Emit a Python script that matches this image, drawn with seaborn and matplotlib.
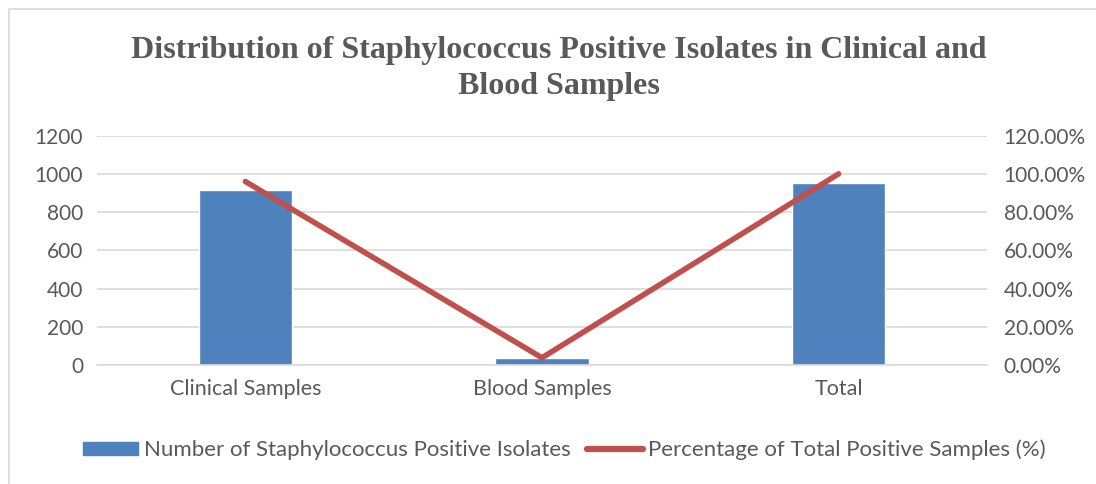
import matplotlib
matplotlib.use("Agg")
import matplotlib.pyplot as plt
from matplotlib.patches import Rectangle
from matplotlib.lines import Line2D
from matplotlib.ticker import FuncFormatter
import seaborn as sns
import pandas as pd

categories = ["Clinical Samples", "Blood Samples", "Total"]
isolates = [914, 38, 952]
percentages = [96.0, 4.0, 100.0]

bar_color = "#4f81bd"
line_color = "#c0504d"
text_color = "#595959"

sns.set_style("white")
plt.rcParams["font.family"] = ["Lato", "DejaVu Sans"]

df = pd.DataFrame({"category": categories, "isolates": isolates, "pct": percentages})

fig = plt.figure(figsize=(10.96, 4.84), dpi=100)
ax = fig.add_axes([0.0885, 0.245, 0.812, 0.475])

sns.barplot(data=df, x="category", y="isolates", color=bar_color, width=0.315,
            saturation=1, ax=ax)
ax.set_ylim(0, 1200)
ax.set_yticks(range(0, 1201, 200))
ax.set_xlim(-0.5, 2.5)
ax.set_xlabel("")
ax.set_ylabel("")
ax.grid(axis="y", color="#d9d9d9", linewidth=1.2)
ax.set_axisbelow(True)
for s in ["top", "left", "right"]:
    ax.spines[s].set_visible(False)
ax.spines["bottom"].set_color("#d9d9d9")
ax.spines["bottom"].set_linewidth(1.2)
ax.tick_params(axis="y", length=0, labelsize=15, colors=text_color, pad=10)
ax.tick_params(axis="x", length=0, labelsize=15.5, colors=text_color, pad=10)

ax2 = ax.twinx()
sns.lineplot(x=range(len(categories)), y=percentages, color=line_color, linewidth=4,
             ax=ax2, solid_capstyle="round")
ax2.set_ylim(0, 120)
ax2.set_yticks(range(0, 121, 20))
ax2.yaxis.set_major_formatter(FuncFormatter(lambda v, p: f"{v:.2f}%"))
for s in ["top", "left", "right", "bottom"]:
    ax2.spines[s].set_visible(False)
ax2.tick_params(axis="y", length=0, labelsize=15, colors=text_color, pad=12)
ax2.set_ylabel("")

fig.suptitle("Distribution of Staphylococcus Positive Isolates in Clinical and\nBlood Samples",
             x=0.51, y=0.925, fontsize=23, fontweight="bold", color=text_color,
             family="Liberation Serif", linespacing=1.3)

handles = [Rectangle((0, 0), 1, 1, color=bar_color),
           Line2D([0], [0], color=line_color, linewidth=4.5, solid_capstyle="round")]
labels = ["Number of Staphylococcus Positive Isolates",
          "Percentage of Total Positive Samples (%)"]
leg = fig.legend(handles, labels, loc="center", bbox_to_anchor=(0.515, 0.07), ncol=2,
                 frameon=False, fontsize=16, handlelength=2.5, handleheight=0.5,
                 handletextpad=0.25, columnspacing=0.75)
for t in leg.get_texts():
    t.set_color(text_color)

fig.patches.append(Rectangle((0.008, -0.1), 1.1, 1.082, transform=fig.transFigure,
                             fill=False, edgecolor="#d9d9d9", linewidth=1.2))

fig.savefig("out.png", dpi=100)
